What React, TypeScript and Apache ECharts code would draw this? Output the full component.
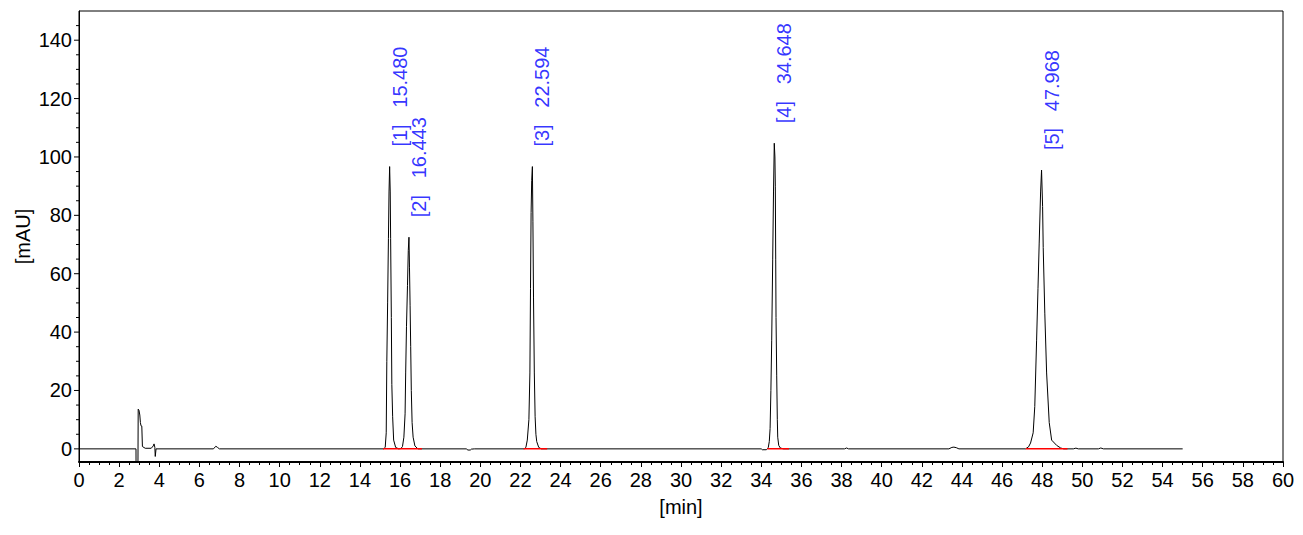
import React, { useEffect, useRef } from "react";
import * as echarts from "echarts";

// Chromatogram trace: [time (min), signal (mAU)]
const trace: [number, number][] = [
  [0, 0], [2.84, 0], [2.845, -10], [2.935, -10], [2.95, 13.6], [2.99, 13.2], [3.03, 11.6],
  [3.06, 9], [3.09, 7.9], [3.13, 7.8], [3.16, 0.8], [3.3, 0.2], [3.6, 0.2], [3.7, 1.0],
  [3.74, 1.7], [3.78, 0.5], [3.8, -2.6], [3.83, -2.6], [3.84, 0],
  [6.7, 0], [6.82, 0.9], [6.9, 0.5], [7.0, 0],
  [15.18, 0], [15.26, 0.5], [15.31, 5.5], [15.34, 30], [15.38, 50], [15.42, 72], [15.45, 88],
  [15.48, 96.7], [15.51, 88], [15.53, 72], [15.565, 45], [15.59, 22], [15.63, 11], [15.68, 3],
  [15.78, 0.5], [15.93, 0],
  [16.04, 0.1], [16.12, 0.8], [16.19, 4], [16.25, 12], [16.28, 26], [16.32, 42], [16.37, 56],
  [16.41, 68], [16.443, 72.5], [16.47, 62], [16.5, 49], [16.53, 35], [16.56, 20], [16.6, 9],
  [16.65, 4], [16.74, 1], [16.89, 0],
  [19.3, 0], [19.38, -0.4], [19.5, -0.4], [19.55, -0.1], [19.7, 0],
  [22.19, 0], [22.27, 0.5], [22.34, 3], [22.42, 10], [22.47, 26], [22.5, 55], [22.53, 81],
  [22.56, 92], [22.594, 96.7], [22.62, 78], [22.65, 52], [22.69, 26], [22.73, 11], [22.77, 5],
  [22.81, 2.5], [22.91, 0.5], [23.04, 0],
  [34.0, 0], [34.05, -0.3], [34.25, -0.3], [34.3, 0], [34.35, 0.5], [34.4, 2.5], [34.44, 7],
  [34.48, 20], [34.52, 37], [34.57, 65], [34.61, 88], [34.648, 104.7], [34.68, 100], [34.7, 90],
  [34.72, 65], [34.735, 45], [34.77, 25], [34.8, 10], [34.82, 4], [34.87, 1.2], [34.95, 0.3],
  [35.1, 0],
  [38.15, 0], [38.25, 0.3], [38.35, 0],
  [43.35, 0], [43.5, 0.5], [43.6, 0.6], [43.72, 0.4], [43.85, 0],
  [47.17, 0], [47.32, 0.7], [47.42, 2], [47.55, 5.5], [47.63, 14.5], [47.72, 37], [47.79, 55],
  [47.85, 70.5], [47.92, 88], [47.968, 95.5], [48.02, 83], [48.05, 69], [48.13, 46.5],
  [48.22, 26], [48.35, 9], [48.47, 3], [48.72, 1.2], [48.92, 0.3], [49.07, 0],
  [49.55, 0], [49.68, 0.25], [49.8, 0],
  [50.8, 0], [50.92, 0.3], [51.05, 0],
  [55, 0],
];

// Peak annotations
const peakIds = [1, 2, 3, 4, 5];
const peakTimes = [15.48, 16.443, 22.594, 34.648, 47.968];
const peakHeights = [96.7, 72.5, 96.7, 104.7, 95.5];

// Integration baselines [start, end] (min)
const baselines: [number, number][] = [
  [15.16, 17.09],
  [22.16, 23.33],
  [34.3, 35.38],
  [47.18, 49.26],
];

// Y-axis tick values (mAU)
const yMajorTicks = [0, 20, 40, 60, 80, 100, 120, 140];
const yMinorTicks = [5, 10, 15, 25, 30, 35, 45, 50, 55, 65, 70, 75, 85, 90, 95, 105, 110, 115, 125, 130, 135, 145];

const FONT = "'Liberation Sans', Arial, sans-serif";

export default function App() {
  const ref = useRef<HTMLDivElement>(null);
  useEffect(() => {
    if (!ref.current) return;
    const chart = echarts.init(ref.current, undefined, { renderer: "svg" });
    const tickData = [
      ...yMajorTicks.map((v) => [0, v, 5]),
      ...yMinorTicks.map((v) => [0, v, 3]),
    ];
    chart.setOption({
      animation: false,
      backgroundColor: "#ffffff",
      grid: {
        left: 79, right: 20, top: 11, bottom: 73,
        show: true, borderColor: "#000", borderWidth: 1, backgroundColor: "transparent",
      },
      xAxis: {
        type: "value", min: 0, max: 60, interval: 2,
        name: "[min]", nameLocation: "middle", nameGap: 35, nameMoveOverlap: false,
        nameTextStyle: { color: "#000", fontSize: 20, fontFamily: FONT },
        axisLine: { show: true, onZero: false, lineStyle: { color: "#000", width: 2 } },
        axisTick: { show: true, length: 5, lineStyle: { color: "#000", width: 1 } },
        minorTick: { show: true, splitNumber: 4, length: 3, lineStyle: { color: "#000", width: 1 } },
        axisLabel: { color: "#000", fontSize: 20, fontFamily: FONT, margin: 8, hideOverlap: false },
        splitLine: { show: false },
        minorSplitLine: { show: false },
      },
      yAxis: {
        type: "value", min: -4.5, max: 150, splitNumber: 8, minInterval: 20, maxInterval: 20,
        name: "[mAU]", nameLocation: "middle", nameGap: 46, nameMoveOverlap: false,
        nameTextStyle: { color: "#000", fontSize: 20, fontFamily: FONT },
        axisLine: { show: true, onZero: false, lineStyle: { color: "#000", width: 1 } },
        axisTick: { show: false },
        minorTick: { show: false },
        axisLabel: { color: "#000", fontSize: 20, fontFamily: FONT, margin: 7, showMinLabel: false, showMaxLabel: false },
        splitLine: { show: false },
      },
      series: [
        {
          type: "line", data: trace, showSymbol: false, symbol: "none",
          lineStyle: { color: "#000", width: 1 }, z: 2, silent: true,
        },
        ...baselines.map((b) => ({
          type: "line", data: [[b[0], 0], [b[1], 0]], showSymbol: false, symbol: "none",
          lineStyle: { color: "#ff0000", width: 1.5 }, z: 3, silent: true,
        })),
        {
          type: "scatter", symbolSize: 0, silent: true, z: 4,
          data: peakTimes.map((t, i) => ({
            value: [t, peakHeights[i]],
            label: { formatter: `[${peakIds[i]}]   ${t.toFixed(3)}` },
          })),
          label: {
            show: true, position: "top", distance: 20, rotate: 90,
            align: "left", verticalAlign: "top",
            color: "#0000ff", fontSize: 20, fontFamily: FONT,
          },
        },
        {
          type: "custom", silent: true, clip: false, z: 5,
          data: tickData,
          renderItem: (params: any, api: any) => {
            const p = api.coord([api.value(0), api.value(1)]);
            const len = api.value(2);
            return {
              type: "line",
              shape: { x1: p[0] - len, y1: p[1], x2: p[0], y2: p[1] },
              style: { stroke: "#000", lineWidth: 1 },
            };
          },
        },
      ],
    });
    return () => chart.dispose();
  }, []);
  return (
    <div
      ref={ref}
      style={{ position: "absolute", left: 0, top: 0, width: 1303, height: 535, background: "#fff" }}
    />
  );
}
